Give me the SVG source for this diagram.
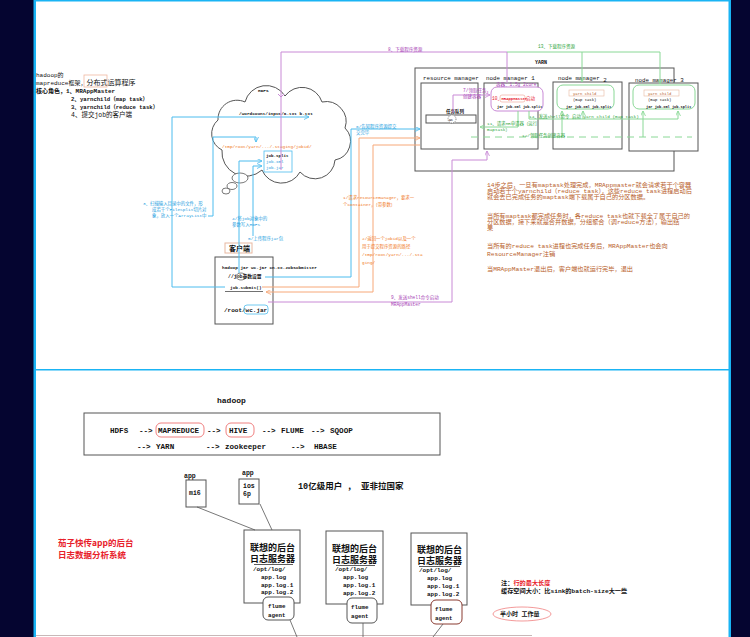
<svg xmlns="http://www.w3.org/2000/svg" width="750" height="637" viewBox="0 0 750 637">
<style>
text{font-family:"Liberation Mono","Noto Sans CJK SC",monospace;fill:#111}
.b{font-weight:bold}
.box{fill:#fff;stroke:#555;stroke-width:1}
.bl{fill:none;stroke:#4dbcee;stroke-width:1}
.or{fill:none;stroke:#f7a878;stroke-width:1}
.pu{fill:none;stroke:#c98ad6;stroke-width:1}
.gr{fill:none;stroke:#8ad896;stroke-width:1}
.tb{fill:#1e9ee0}
.to{fill:#f0781e}
.tp{fill:#a73fb5}
.tg{fill:#2fa640}
.tr{fill:#e8202a}
.tn{fill:#b8602a}
.hs{font-size:7.6px;font-weight:bold}
</style>
<defs>
<marker id="ab" viewBox="0 0 6 6" refX="6" refY="3" markerWidth="5" markerHeight="5" orient="auto" markerUnits="userSpaceOnUse"><path d="M0,0 L6,3 L0,6" fill="none" stroke="#4dbcee"/></marker>
<marker id="ao" viewBox="0 0 6 6" refX="6" refY="3" markerWidth="5" markerHeight="5" orient="auto" markerUnits="userSpaceOnUse"><path d="M0,0 L6,3 L0,6" fill="none" stroke="#f7a878"/></marker>
<marker id="ap" viewBox="0 0 6 6" refX="6" refY="3" markerWidth="5" markerHeight="5" orient="auto" markerUnits="userSpaceOnUse"><path d="M0,0 L6,3 L0,6" fill="none" stroke="#c98ad6"/></marker>
<marker id="ag" viewBox="0 0 6 6" refX="6" refY="3" markerWidth="5" markerHeight="5" orient="auto" markerUnits="userSpaceOnUse"><path d="M0,0 L6,3 L0,6" fill="none" stroke="#8ad896"/></marker>
</defs>

<!-- frame -->
<rect x="0" y="0" width="750" height="637" fill="#fff"/>
<rect x="0" y="0" width="34" height="637" fill="#050530"/>
<rect x="731" y="0" width="19" height="637" fill="#050530"/>
<rect x="33.5" y="0" width="2.5" height="637" fill="#1ab4f4"/>
<rect x="728.5" y="0" width="2.5" height="637" fill="#1ab4f4"/>
<rect x="34" y="0" width="696" height="1.5" fill="#1ab4f4"/>
<rect x="34" y="369" width="696" height="1.5" fill="#1ab4f4"/>
<line x1="36" y1="635.5" x2="532" y2="635.5" stroke="#c8b8b8" stroke-width="1"/>

<!-- intro text -->
<g id="intro">
<text x="36" y="77" font-size="6">hadoop的</text>
<text x="36" y="85" font-size="6">mapreduce框架，<tspan font-size="7">分布式运算程序</tspan></text>
<rect x="84" y="75" width="23" height="12" fill="none" stroke="#f0b8a0" stroke-width="0.8"/>
<text x="36" y="93" font-size="6" class="b">核心角色，1、MRAppMaster</text>
<text x="71" y="101" font-size="5.6" class="b">2、yarnchild（map task）</text>
<text x="71" y="109" font-size="5.6" class="b">3、yarnchild（reduce task）</text>
<text x="71" y="117" font-size="6.5">4、提交job的客户端</text>
</g>

<!-- HDFS cloud -->
<g id="hdfs">
<path d="M222,150 A18,18 0 0 1 218,120 A19,19 0 0 1 245,102 A22,22 0 0 1 285,96 A21,21 0 0 1 322,102 A20,20 0 0 1 345,128 A19,19 0 0 1 335,160 A20,20 0 0 1 300,172 A21,21 0 0 1 262,170 A24,24 0 0 1 222,150 Z" fill="#fff" stroke="#555" stroke-width="1"/>
<ellipse cx="240" cy="178" rx="8" ry="5" fill="#fff" stroke="#555" stroke-width="0.8"/>
<ellipse cx="232" cy="186" rx="5" ry="3.5" fill="#fff" stroke="#555" stroke-width="0.8"/>
<ellipse cx="226" cy="191" rx="4" ry="3" fill="#fff" stroke="#555" stroke-width="0.8"/>
<text x="258" y="92" font-size="4.4" class="b">HDFS</text>
<text x="239" y="115" font-size="4.4" class="b">/wordcount/input/a.txt b.txt</text>
<text x="222" y="148" font-size="4.4" class="to">/tmp/root/yarn/.../.staging/jobid/</text>
<rect x="264" y="151" width="28" height="21" fill="#fff" stroke="#4dbcee" stroke-width="0.8"/>
<text x="266" y="157" font-size="4.2" class="b">job.split</text>
<text x="266" y="163" font-size="4.2" class="tb">job.xml</text>
<text x="266" y="169" font-size="4.2" class="tb">job.jar</text>
</g>

<!-- YARN -->
<g id="yarn">
<rect x="415" y="68" width="259" height="103" class="box"/>
<text x="535" y="64" font-size="5" class="b">YARN</text>
</g>
<g id="resource-manager">
<rect x="421" y="83" width="57" height="66" class="box"/>
<text x="423" y="80" font-size="5.8">resource manager</text>
<text x="446" y="113" font-size="4.5" class="b">任务队列</text>
<rect x="426" y="115" width="50" height="8" class="box"/>
<circle cx="452" cy="119" r="4" fill="#fff" stroke="#333" stroke-width="0.6" stroke-dasharray="1,1"/>
<text x="449" y="120.5" font-size="3.5">wc</text>
</g>
<g id="node-manager-1">
<rect x="484" y="83" width="54" height="66" class="box"/>
<text x="486" y="80" font-size="5.8">node manager 1</text>
<rect x="491" y="87" width="52" height="24" rx="6" fill="#fff" stroke="#c98ad6" stroke-width="1"/>
<text x="496" y="86" font-size="4.5" class="tp">容器：1.5g 2core</text>
<text x="492" y="100" font-size="4.5" class="tr">10、</text>
<rect x="500" y="95" width="25" height="7" rx="2" fill="#fff" stroke="#f0a090" stroke-width="0.6"/>
<text x="501.5" y="100" font-size="3.9" class="tr b">MRAppMaster</text>
<text x="526" y="100" font-size="4.5" class="tr">启动</text>
<text x="497" y="108" font-size="3.6" class="b">jar job.xml job.split</text>
</g>
<g id="node-manager-2">
<rect x="553" y="82" width="69" height="67" class="box"/>
<text x="558" y="80" font-size="5.8">node manager <tspan dy="2">2</tspan></text>
<rect x="557" y="85" width="57" height="24" rx="6" fill="#fff" stroke="#8ad896" stroke-width="1"/>
<rect x="569" y="90" width="35" height="6" fill="#fff" stroke="#e8b8a0" stroke-width="0.6"/>
<text x="573" y="94.5" font-size="3.9" class="tn">yarn child</text>
<text x="573" y="101" font-size="3.9">(map task)</text>
<text x="566" y="107.5" font-size="3.6" class="b">jar job.xml job.split</text>
</g>
<g id="node-manager-3">
<rect x="629" y="83" width="69" height="68" class="box"/>
<text x="635" y="82" font-size="5.8">node manager 3</text>
<rect x="633" y="85" width="62" height="24" rx="6" fill="#fff" stroke="#8ad896" stroke-width="1"/>
<rect x="644" y="90" width="35" height="6" fill="#fff" stroke="#e8b8a0" stroke-width="0.6"/>
<text x="648" y="94.5" font-size="3.9" class="tn">yarn child</text>
<text x="648" y="101" font-size="3.9">(map task)</text>
<text x="646" y="107.5" font-size="3.6" class="b">jar job.xml job.split</text>
</g>

<!-- client -->
<g id="client">
<rect x="225" y="243" width="27" height="10" fill="#fff" stroke="#e8b8a0" stroke-width="1"/>
<text x="229" y="251" font-size="7" class="b">客户端</text>
<rect x="215" y="257" width="58" height="67" class="box"/>
<text x="222" y="269" font-size="4.4" class="b">hadoop jar wc.jar cn.xx.JobSubmitter</text>
<text x="228" y="278" font-size="4.8" class="b">//job参数设置</text>
<ellipse cx="241" cy="276.5" rx="5" ry="3.5" fill="none" stroke="#333" stroke-width="0.6"/>
<text x="230" y="289" font-size="4.4" class="b">job.submit()</text>
<line x1="225" y1="291.5" x2="263" y2="291.5" stroke="#333" stroke-width="0.7"/>
<text x="224" y="312" font-size="6" class="b">/root/wc.jar</text>
<rect x="244" y="305" width="24" height="9" rx="3" fill="none" stroke="#4dbcee" stroke-width="0.8"/>
</g>

<!-- connectors -->
<g id="connectors">
<path class="bl" d="M225,287 H172 V117 H309" marker-end="url(#ab)"/>
<path class="bl" d="M208,216 H213 V137 H256 V142" marker-end="url(#ab)"/>
<path class="bl" d="M239,273 V161 H262" marker-end="url(#ab)"/>
<path class="bl" d="M253,236 V166 H262" marker-end="url(#ab)"/>
<path class="bl" d="M265,277 H351 V129 H420" marker-end="url(#ab)"/>
<path class="or" d="M262,287 H359 V138 H420" marker-end="url(#ao)"/>
<path class="or" d="M420,145 H373 V292 H266" marker-end="url(#ao)"/>
<path class="pu" d="M507,83 V52 H281 V170"/>
<path class="pu" d="M278,94 L281,97 L284,94"/>
<path class="pu" d="M268,302 H452 V160 H487 V151" marker-end="url(#ap)"/>
<path class="pu" d="M453,113 V95 H490" marker-end="url(#ap)"/>
<path class="gr" d="M507,52 H660 V84" marker-end="url(#ag)"/>
<path class="gr" d="M582,52 V82" marker-end="url(#ag)"/>
<path class="gr" d="M518,111 V127 H480" marker-end="url(#ag)"/>
<path class="gr" d="M471,137 H692" stroke-dasharray="7,5"/>
<path class="gr" d="M562,137 V111" marker-end="url(#ag)"/>
<path class="gr" d="M643,137 V111" marker-end="url(#ag)"/>
<path class="gr" d="M529,111 V119 H678 V111" marker-end="url(#ag)"/>
<path class="gr" d="M583,119 V111" marker-end="url(#ag)"/>
</g>

<!-- connector labels -->
<g id="labels">
<text x="143" y="205" font-size="4.4" class="tb">3、扫描输入目录中的文件，形</text>
<text x="152" y="211" font-size="4.4" class="tb">成若干个FileSplit切片对</text>
<text x="152" y="217" font-size="4.4" class="tb">象，放入一个ArrayList中</text>
<text x="232" y="220" font-size="4.4" class="tb">4/将job对象中的</text>
<text x="232" y="226" font-size="4.4" class="tb">参数写入HDFS</text>
<text x="248" y="240" font-size="4.4" class="tb">5/上传程序jar包</text>
<text x="356" y="128" font-size="4.4" class="tb">6/告知程序资源提交</text>
<text x="356" y="134" font-size="4.4" class="tb">交完毕</text>
<text x="343" y="199" font-size="4.4" class="to">1/请求resourcemanager，要求一</text>
<text x="343" y="206" font-size="4.4" class="to">个Container，（带参数）</text>
<text x="362" y="240" font-size="4.4" class="to">2/返回一个jobid以及一个</text>
<text x="362" y="248" font-size="4.4" class="to">用于提交程序资源的路径</text>
<text x="362" y="256" font-size="4.4" class="to">/tmp/root/yarn/.../.sta</text>
<text x="362" y="264" font-size="4.4" class="to">ging/</text>
<text x="388" y="51" font-size="4.5" class="tp">8、下载程序资源</text>
<text x="391" y="299" font-size="4.5" class="tp">9、发送shell命令启动</text>
<text x="391" y="306" font-size="4.5" class="tp">MRAppMaster</text>
<text x="463" y="92" font-size="4.5" class="tp">7/领取任务，</text>
<text x="463" y="98" font-size="4.5" class="tp">创建容器</text>
<text x="538" y="48" font-size="4.5" class="tg">13、下载程序资源</text>
<text x="487" y="125" font-size="4.4" class="tg">11、请求MR申请器（运行</text>
<text x="487" y="131" font-size="4.4" class="tg">maptask）</text>
<text x="522" y="137" font-size="4.4" class="tg">12/领取任务创建容器</text>
<text x="529" y="118" font-size="4.4" class="tg">14、发送shell命令 启动 yarn child (map task)</text>
</g>

<!-- notes -->
<g id="notes" font-size="6.2">
<text x="487" y="187" class="tn">14步之后，一旦有maptask处理完成，MRAppmaster就会请求若干个容器</text>
<text x="487" y="193" class="tn">启动若干个yarnchild（reduce task），这些reduce task进程启动后</text>
<text x="487" y="199" class="tn">就会去已完成任务的maptask端下载属于自己的分区数据。</text>
<text x="487" y="218" class="tn">当所有maptask都完成任务时，各reduce task也就下载全了属于自己的</text>
<text x="487" y="224" class="tn">分区数据，接下来就是合并数据，分组聚合（调reduce方法），输出结</text>
<text x="487" y="230" class="tn">果</text>
<text x="487" y="248" class="tn">当所有的reduce task进程也完成任务后，MRAppMaster也会向</text>
<text x="487" y="256" class="tn">ResourceManager注销</text>
<text x="487" y="271" class="tn">当MRAppMaster退出后，客户端也就运行完毕，退出</text>
</g>

<!-- bottom panel -->
<g id="hadoop-stack">
<text x="217" y="403" font-size="8" class="b">hadoop</text>
<rect x="84" y="413" width="356" height="42" class="box"/>
<rect x="156" y="423" width="48" height="14" rx="5" fill="none" stroke="#f08080" stroke-width="1"/>
<rect x="226" y="423" width="28" height="14" rx="5" fill="none" stroke="#f08080" stroke-width="1"/>
<text x="110" y="433" class="hs">HDFS</text>
<text x="139" y="433" class="hs">--&gt;</text>
<text x="158" y="433" class="hs">MAPREDUCE</text>
<text x="207" y="433" class="hs">--&gt;</text>
<text x="229" y="433" class="hs">HIVE</text>
<text x="262" y="433" class="hs">--&gt;</text>
<text x="281" y="433" class="hs">FLUME</text>
<text x="311" y="433" class="hs">--&gt;</text>
<text x="330" y="433" class="hs">SQOOP</text>
<text x="137" y="449" class="hs">--&gt;</text>
<text x="156" y="449" class="hs">YARN</text>
<text x="206" y="449" class="hs">--&gt;</text>
<text x="225" y="449" class="hs">zookeeper</text>
<text x="291" y="449" class="hs">--&gt;</text>
<text x="314" y="449" class="hs">HBASE</text>
</g>

<g id="app-mi6">
<text x="184" y="478" font-size="6.5" class="b">app</text>
<rect x="186" y="480" width="20" height="27" class="box"/>
<text x="189" y="495" font-size="6.5" class="b">mi6</text>
</g>
<g id="app-ios">
<text x="242" y="475" font-size="6.5" class="b">app</text>
<rect x="239" y="479" width="20" height="25" class="box"/>
<text x="243" y="488" font-size="6.5" class="b">ios</text>
<text x="243" y="496" font-size="6.5" class="b">6p</text>
</g>
<text x="298" y="489" font-size="8.5" class="b">10亿级用户 ， 亚非拉国家</text>

<g id="server-1">
<rect x="244" y="530" width="56" height="73" class="box"/>
<text x="250" y="551" font-size="9" class="b">联想的后台</text>
<text x="250" y="562" font-size="9" class="b">日志服务器</text>
<line x1="254" y1="564.5" x2="293" y2="564.5" stroke="#333" stroke-width="0.8"/>
<text x="253" y="571" font-size="6" class="b">/opt/log/</text>
<text x="261" y="579" font-size="6" class="b">app.log</text>
<text x="261" y="587" font-size="6" class="b">app.log.1</text>
<text x="261" y="594" font-size="6" class="b">app.log.2</text>
<rect x="263" y="597" width="31" height="23" rx="5" class="box"/>
<text x="268" y="608" font-size="5.8" class="b">flume</text>
<text x="268" y="617" font-size="5.8" class="b">agent</text>
</g>
<g id="server-2">
<rect x="326" y="531" width="57" height="73" class="box"/>
<text x="332" y="552" font-size="9" class="b">联想的后台</text>
<text x="332" y="563" font-size="9" class="b">日志服务器</text>
<line x1="336" y1="565.5" x2="375" y2="565.5" stroke="#333" stroke-width="0.8"/>
<text x="335" y="571" font-size="6" class="b">/opt/log/</text>
<text x="343" y="579" font-size="6" class="b">app.log</text>
<text x="343" y="587" font-size="6" class="b">app.log.1</text>
<text x="343" y="595" font-size="6" class="b">app.log.2</text>
<rect x="347" y="598" width="30" height="25" rx="5" class="box"/>
<text x="351" y="609" font-size="5.8" class="b">flume</text>
<text x="351" y="618" font-size="5.8" class="b">agent</text>
</g>
<g id="server-3">
<rect x="411" y="533" width="56" height="72" class="box"/>
<text x="417" y="553" font-size="9" class="b">联想的后台</text>
<text x="417" y="564" font-size="9" class="b">日志服务器</text>
<line x1="419" y1="566.5" x2="460" y2="566.5" stroke="#333" stroke-width="0.8"/>
<text x="419" y="572" font-size="6" class="b">/opt/log/</text>
<text x="427" y="580" font-size="6" class="b">app.log</text>
<text x="427" y="588" font-size="6" class="b">app.log.1</text>
<text x="427" y="596" font-size="6" class="b">app.log.2</text>
<rect x="431" y="600" width="31" height="24" rx="5" fill="#fff" stroke="#8a3a30" stroke-width="1"/>
<text x="435" y="611" font-size="5.8" class="b">flume</text>
<text x="435" y="620" font-size="5.8" class="b">agent</text>
</g>

<g id="bottom-connectors">
<path d="M197,507 L255,530 M260,504 L272,530 M290,620 L297,637 M363,623 V637 M443,624 L433,637" fill="none" stroke="#555" stroke-width="0.8"/>
</g>

<g id="side-notes">
<text x="58" y="546" font-size="8.5" class="tr b" style="font-family:'Noto Sans CJK SC','Liberation Sans',sans-serif">茄子快传app的后台</text>
<text x="58" y="557.5" font-size="8.5" class="tr b" style="font-family:'Noto Sans CJK SC','Liberation Sans',sans-serif">日志数据分析系统</text>
<text x="501" y="585" font-size="6.2" class="b">注：<tspan class="tr">行的最大长度</tspan></text>
<text x="501" y="593" font-size="6.2" class="b">缓存空间大小：比sink的batch-size大一些</text>
<ellipse cx="522" cy="614" rx="29" ry="7" fill="none" stroke="#f08080" stroke-width="0.8"/>
<text x="500" y="616" font-size="6" class="b">半小时 工作量</text>
</g>
</svg>
